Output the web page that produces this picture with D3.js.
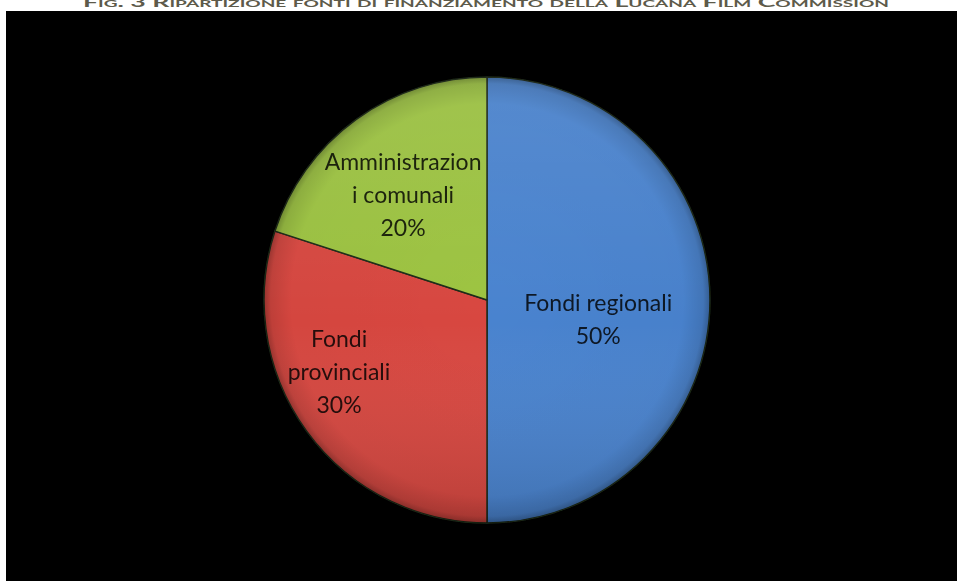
<!DOCTYPE html>
<html>
<head>
<meta charset="utf-8">
<script src="https://cdn.jsdelivr.net/npm/d3@7"></script>
<style>
  html, body { margin: 0; padding: 0; background: #ffffff; }
  svg { display: block; }
</style>
</head>
<body>
<svg id="chart" width="957" height="581"></svg>
<script>
// Funding sources of the Lucana Film Commission
const categories = ["Fondi regionali", "Fondi provinciali", "Amministrazioni comunali"];
const shares = [50, 30, 20];
const labelLines = [
  ["Fondi regionali", "50%"],
  ["Fondi", "provinciali", "30%"],
  ["Amministrazion", "i comunali", "20%"]
];
const sliceColors = ["#4a83cf", "#d8463f", "#9cc33f"];
const titleText = "Fig. 3 Ripartizione fonti di finanziamento della Lucana Film Commission";

const W = 957, H = 581;
const svg = d3.select("#chart");

// page title above the chart area
svg.append("text")
  .attr("x", 486).attr("y", 7)
  .attr("text-anchor", "middle")
  .attr("font-family", "Lato, 'Open Sans', sans-serif")
  .attr("font-weight", 700)
  .attr("font-size", 14)
  .style("font-variant", "small-caps")
  .attr("fill", "#5d5a4a")
  .attr("textLength", 806)
  .attr("lengthAdjust", "spacingAndGlyphs")
  .text(titleText);

// chart area
svg.append("rect")
  .attr("x", 6).attr("y", 11)
  .attr("width", W - 6).attr("height", H - 11)
  .attr("fill", "#000000");

const cx = 487, cy = 300, R = 223;

const defs = svg.append("defs");
// soft bevel: darker towards the rim
const shade = defs.append("radialGradient")
  .attr("id", "shade")
  .attr("gradientUnits", "userSpaceOnUse")
  .attr("cx", cx).attr("cy", cy).attr("r", R);
shade.append("stop").attr("offset", "0%").attr("stop-color", "#000").attr("stop-opacity", 0);
shade.append("stop").attr("offset", "88%").attr("stop-color", "#000").attr("stop-opacity", 0.02);
shade.append("stop").attr("offset", "97%").attr("stop-color", "#000").attr("stop-opacity", 0.12);
shade.append("stop").attr("offset", "100%").attr("stop-color", "#000").attr("stop-opacity", 0.3);
// light from above, dimmer below
const light = defs.append("linearGradient")
  .attr("id", "light")
  .attr("x1", 0).attr("y1", 0).attr("x2", 0).attr("y2", 1);
light.append("stop").attr("offset", "0%").attr("stop-color", "#fff").attr("stop-opacity", 0.08);
light.append("stop").attr("offset", "55%").attr("stop-color", "#fff").attr("stop-opacity", 0);
light.append("stop").attr("offset", "100%").attr("stop-color", "#000").attr("stop-opacity", 0.12);
defs.append("filter").attr("id", "soft")
  .append("feGaussianBlur").attr("stdDeviation", 0.6);
defs.append("filter").attr("id", "softText")
  .append("feGaussianBlur").attr("stdDeviation", 0.35);

const data = categories.map((c, i) => ({ name: c, value: shares[i], color: sliceColors[i], lines: labelLines[i] }));

const pie = d3.pie().sort(null).value(d => d.value);
const arcs = pie(data);
const arc = d3.arc().innerRadius(0).outerRadius(R);

const g = svg.append("g").attr("transform", `translate(${cx},${cy})`);

g.selectAll("path.slice")
  .data(arcs)
  .join("path")
  .attr("class", "slice")
  .attr("d", arc)
  .attr("fill", d => d.data.color)
  .attr("stroke", "#1d2a18")
  .attr("stroke-width", 1.5)
  .attr("stroke-linejoin", "round")
  .attr("filter", "url(#soft)");

// overlays for the rounded look
g.append("circle").attr("r", R).attr("fill", "url(#light)");
svg.append("circle").attr("cx", cx).attr("cy", cy).attr("r", R)
  .attr("fill", "url(#shade)");

// data labels, placed along each slice's bisector
const labelRadius = [0.507, 0.74, 0.6];
const labelAngleShift = [0.18, 0.17, -0.05];
const lineH = 33;
arcs.forEach((a, i) => {
  const mid = (a.startAngle + a.endAngle) / 2 + labelAngleShift[i];
  const r = R * labelRadius[i];
  const lx = Math.sin(mid) * r;
  const ly = -Math.cos(mid) * r;
  const lines = a.data.lines;
  const t = g.append("text")
    .attr("text-anchor", "middle")
    .attr("font-family", "Lato, 'Open Sans', sans-serif")
    .attr("font-size", 23)
    .attr("fill", "#000")
    .attr("fill-opacity", 0.82)
    .attr("filter", "url(#softText)");
  lines.forEach((ln, k) => {
    t.append("tspan")
      .attr("x", lx)
      .attr("y", ly + (k - (lines.length - 1) / 2) * lineH + 7)
      .text(ln);
  });
});
</script>
</body>
</html>
